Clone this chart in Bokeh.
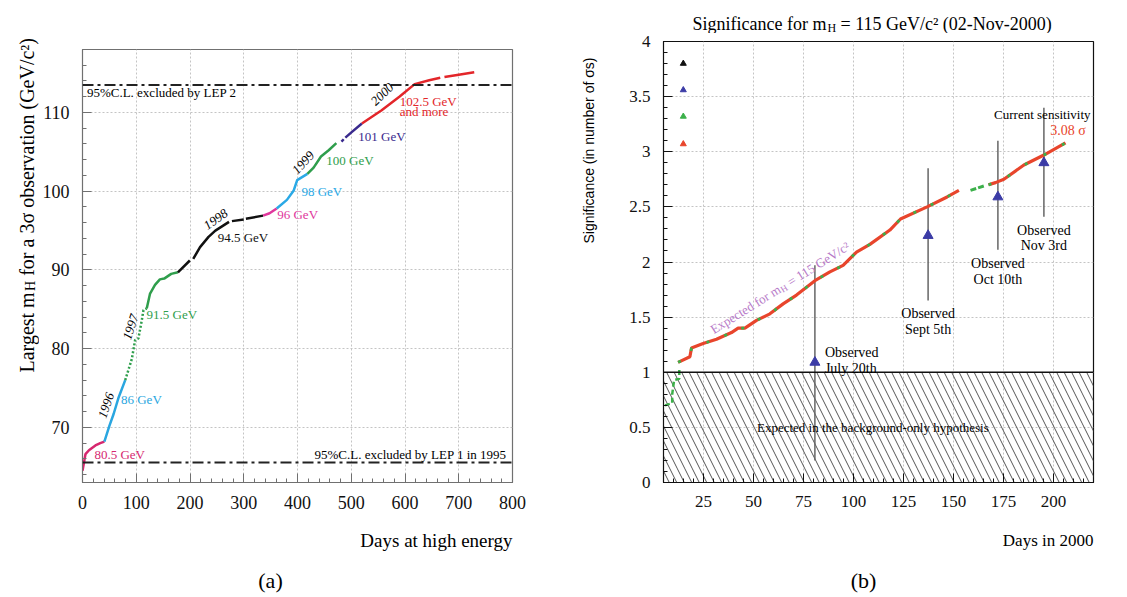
import math
import numpy as np
from bokeh.plotting import figure
from bokeh.layouts import row, column
from bokeh.models import Label, Span, SingleIntervalTicker, CustomJSTickFormatter, Range1d
from bokeh.embed import file_html
from bokeh.resources import INLINE

SERIF = "Liberation Serif"
SANS = "Liberation Sans"
NAN = float("nan")

# ---------------- Panel (a) data: largest mH for a 3 sigma observation ----------------
days_805 = [0, 5.5, 12, 24, 33, 40.7]
mh_805 = [64.5, 66.6, 67.1, 67.7, 68.0, 68.2]
days_86 = [40.7, 50, 57.9, 67.2, 79.5]
mh_86 = [68.2, 70.2, 71.7, 73.8, 76.0]
days_915_dot = [79.5, 91.8, 97.9, 104, 110.3, 113.4, 119.5]
mh_915_dot = [76.0, 78.7, 81.1, 81.3, 83.6, 84.9, 85.1]
days_915 = [119.5, 125.7, 134.9, 144, 152, 165, 177.5]
mh_915 = [85.1, 87.0, 88.1, 88.8, 88.9, 89.5, 89.7]
days_945 = [177.5, 199.7, NAN, 206, 218.7, 234.5, 247.2, 272.6, NAN, 278, 300, NAN, 304, 336]
mh_945 = [89.7, 91.2, NAN, 91.4, 92.9, 94.2, 95.0, 96.1, NAN, 96.2, 96.4, NAN, 96.5, 96.9]
days_96 = [336, 348, 361.3]
mh_96 = [96.9, 97.2, 97.8]
days_98 = [361.3, 380.3, 393, 399.4, 418.4]
mh_98 = [97.8, 98.9, 100.1, 101.4, 102.2]
days_100 = [418.4, 430, 443.7, 458, 472.3]
mh_100 = [102.2, 103.0, 104.4, 105.2, 106.1]
days_101 = [481.8, 486, NAN, 489, 500.8, 519.8]
mh_101 = [106.3, 106.6, NAN, 106.8, 107.5, 108.6]
days_1025 = [519.8, 556, 589.5, 618, 645, 665.6, NAN, 673.4, 700, 728.8]
mh_1025 = [108.6, 110.25, 112.0, 113.6, 114.1, 114.4, NAN, 114.5, 114.8, 115.1]
lep2_limit = 113.5
lep1_limit = 65.55

# ---------------- Panel (b) data: significance for mH = 115 GeV ----------------
exp_g1_days = [5.75, 9.35, 9.35, 10.3, 12.9, 12.9]
exp_g1_sig = [0.70, 0.72, 0.80, 0.93, 0.94, 1.03]
exp_r1_days = [12.3, 18.2, 19.0, 24.8, 31.5, 39.0, 42.3, 45.7, 51.5, 58.2, 64.8, 71.5,
               80.7, 88.2, 94.8, 101.5, 108.2, 118.2, 123.5, 136.8, 146.8, 152.7]
exp_r1_sig = [1.09, 1.14, 1.22, 1.26, 1.30, 1.36, 1.40, 1.40, 1.47, 1.53, 1.62, 1.70,
              1.83, 1.91, 1.97, 2.09, 2.16, 2.29, 2.39, 2.50, 2.59, 2.65]
exp_g2_days = [158.5, 165.2]
exp_g2_sig = [2.65, 2.69]
exp_r2_days = [167.5, 171, 175.2, 185.2, 195.2, 206]
exp_r2_sig = [2.70, 2.72, 2.75, 2.88, 2.97, 3.08]
obs_days = [80.7, 137.3, 172.2, 195.2]
obs_sig = [1.09, 2.24, 2.59, 2.90]
obs_top = [1.97, 2.85, 3.10, 3.40]
obs_bottom = [0.20, 1.65, 2.11, 2.41]
obs_names = ["July 20th", "Sept 5th", "Oct 10th", "Nov 3rd"]
leg_day = [14.9, 14.9, 14.9, 14.9]
leg_sig = [3.80, 3.56, 3.32, 3.07]
leg_colors = ["#111111", "#3b3ba6", "#3cb04a", "#e8452c"]
bg_days = [5, 220]
bg_top = [1, 1]
current_sig = "3.08 σ"


def lab(p, x, y, text, size, color="black", align="left", baseline="middle",
        angle=0.0, font=SERIF, style="normal"):
    p.add_layout(Label(x=x, y=y, text=text, text_font_size=f"{size}px",
                       text_color=color, text_align=align, text_baseline=baseline,
                       angle=angle, text_font=font, text_font_style=style))


def no_align(f):
    if "frame_align" in f.properties():
        f.frame_align = False
    return f


def style_axes(p, xint, yint, tick_size, outline):
    p.xaxis.ticker = SingleIntervalTicker(interval=xint, num_minor_ticks=5)
    p.yaxis.ticker = SingleIntervalTicker(interval=yint, num_minor_ticks=5)
    p.xgrid.ticker = SingleIntervalTicker(interval=xint)
    p.ygrid.ticker = SingleIntervalTicker(interval=yint)
    for ax in (p.xaxis, p.yaxis):
        ax.major_tick_in = 9
        ax.major_tick_out = 0
        ax.minor_tick_in = 4
        ax.minor_tick_out = 0
        ax.major_label_text_font = SERIF
        ax.major_label_text_font_size = f"{tick_size}px"
        ax.major_label_text_color = "#111111"
        ax.major_label_standoff = 13
        ax.axis_line_color = outline
        ax.major_tick_line_color = outline
        ax.minor_tick_line_color = outline
    for g in (p.xgrid, p.ygrid):
        g.grid_line_color = "#c4c4c4"
        g.grid_line_dash = "2 2"
        g.grid_line_width = 1
    p.outline_line_color = outline
    p.outline_line_width = 1.2


def strip(x0, x1, y0, y1):
    """Blank text canvas whose coordinates are page pixels (y downward)."""
    f = figure(width=int(x1 - x0), height=int(y1 - y0), x_range=Range1d(x0, x1),
               y_range=Range1d(y1, y0), output_backend="svg", toolbar_location=None,
               x_axis_type=None, y_axis_type=None, min_border=0,
               min_border_left=0, min_border_right=0, min_border_top=0, min_border_bottom=0)
    f.outline_line_color = None
    f.background_fill_color = "white"
    f.border_fill_color = "white"
    return no_align(f)


# ======================= Panel (a) =======================
pa = figure(width=521, height=518, output_backend="svg", toolbar_location=None,
            x_range=Range1d(0, 800), y_range=Range1d(63, 118),
            min_border_left=40, min_border_right=48, min_border_top=49, min_border_bottom=36)
no_align(pa)
style_axes(pa, 100, 10, 18, "#707070")

for loc in (lep2_limit, lep1_limit):
    pa.add_layout(Span(location=loc, dimension="width", line_color="#222222",
                       line_width=2, line_dash="11 4 3 4"))

segs = [
    (days_805, mh_805, "#d6286f", None),
    (days_86, mh_86, "#2aa6e0", None),
    (days_915_dot, mh_915_dot, "#2f9e4c", "2 2"),
    (days_915, mh_915, "#2f9e4c", None),
    (days_945, mh_945, "#111111", None),
    (days_96, mh_96, "#e0379c", None),
    (days_98, mh_98, "#2aa9e6", None),
    (days_100, mh_100, "#2f9e4c", None),
    (days_101, mh_101, "#3a2a8e", None),
    (days_1025, mh_1025, "#e3262a", None),
]
for xs, ys, col, dash in segs:
    kw = dict(line_dash=dash) if dash else {}
    pa.line(np.array(xs, dtype=float), np.array(ys, dtype=float), line_color=col,
            line_width=2.5, **kw)

lab(pa, 8.2, 112.6, "95%C.L. excluded by LEP 2", 13)
lab(pa, 789, 66.6, "95%C.L. excluded by LEP 1 in 1995", 13, align="right")
energy_labels = [
    ("80.5 GeV", 22.2, 66.5, "#d6286f"),
    ("86 GeV", 71.6, 73.5, "#2aa6e0"),
    ("91.5 GeV", 119.2, 84.4, "#2f9e4c"),
    ("94.5 GeV", 251.4, 94.1, "#111111"),
    ("96 GeV", 362.3, 97.0, "#e0379c"),
    ("98 GeV", 407.3, 100.0, "#2aa9e6"),
    ("100 GeV", 453.5, 103.9, "#2f9e4c"),
    ("101 GeV", 513, 106.95, "#3a2a8e"),
    ("102.5 GeV", 590, 111.45, "#e3262a"),
    ("and more", 590, 110.15, "#e3262a"),
]
for t, x, y, c in energy_labels:
    lab(pa, x, y, t, 13, color=c)
year_labels = [("1996", 44.4, 72.8, 71), ("1997", 90, 82.75, 72), ("1998", 248.3, 96.4, 35),
               ("1999", 411, 103.6, 47), ("2000", 558, 112.3, 44)]
for t, x, y, a in year_labels:
    lab(pa, x, y, t, 13, align="center", angle=math.radians(a), style="italic")

# text strips around panel (a), coordinates in page pixels
a_left = strip(0, 39, 0, 595)
lab(a_left, 26.5, 372, "Largest m", 20, baseline="alphabetic", angle=math.pi / 2)
lab(a_left, 30, 290.4, "H", 14, baseline="alphabetic", angle=math.pi / 2)
lab(a_left, 26.5, 275.3, "for a 3σ observation (GeV/c²)", 20, baseline="alphabetic",
    angle=math.pi / 2)
a_bot = strip(39, 560, 518, 595)
lab(a_bot, 512, 540, "Days at high energy", 19, align="right", baseline="alphabetic")
lab(a_bot, 270, 580, "(a)", 22, align="center", baseline="alphabetic")

# ======================= Panel (b) =======================
pb = figure(width=520, height=485, output_backend="svg", toolbar_location=None,
            x_range=Range1d(5, 220), y_range=Range1d(0, 4),
            min_border_left=58, min_border_right=32, min_border_top=8, min_border_bottom=36)
no_align(pb)
style_axes(pb, 25, 0.5, 17, "#111111")
pb.yaxis.formatter = CustomJSTickFormatter(code="return String(tick)")

pb.varea(x=bg_days, y1=[0, 0], y2=bg_top, fill_alpha=0, hatch_pattern="\\",
         hatch_scale=15, hatch_color="#555555", hatch_weight=1)
pb.add_layout(Span(location=1, dimension="width", line_color="#111111", line_width=1.5))

pb.segment(x0=obs_days, y0=obs_bottom, x1=obs_days, y1=obs_top, line_color="#666666",
           line_width=1.5)

pb.line(exp_g1_days, exp_g1_sig, line_color="#3cb04a", line_width=2.5, line_dash="5 3")
pb.line(exp_r1_days, exp_r1_sig, line_color="#e8452c", line_width=3.2)
pb.line(exp_r1_days, exp_r1_sig, line_color="#3cb04a", line_width=2.8, line_dash="3 16")
pb.line(exp_g2_days, exp_g2_sig, line_color="#3cb04a", line_width=3, line_dash="6 2")
pb.line(exp_r2_days, exp_r2_sig, line_color="#e8452c", line_width=3.2)
pb.line(exp_r2_days, exp_r2_sig, line_color="#3cb04a", line_width=2.8, line_dash="3 18")

pb.scatter(obs_days, obs_sig, marker="triangle", size=10, fill_color="#3b3ba6",
           line_color="#3b3ba6")
pb.scatter(leg_day, leg_sig, marker="triangle", size=6, fill_color=leg_colors,
           line_color=leg_colors)

obs_label_pos = [(85.7, 1.18, 1.03, "left"), (137.3, 1.53, 1.39, "center"),
                 (172.2, 1.99, 1.84, "center"), (195.2, 2.29, 2.15, "center")]
for (x, y1, y2, al), name in zip(obs_label_pos, obs_names):
    lab(pb, x, y1, "Observed", 14, align=al)
    lab(pb, x, y2, name, 14, align=al)
lab(pb, 218.5, 3.34, "Current sensitivity", 13, align="right")
lab(pb, 207.2, 3.19, current_sig, 14, color="#e8452c", align="center")
lab(pb, 109.7, 0.495, "Expected in the background-only hypothesis", 13, align="center")

ang = math.radians(32)
purple = "#b77ac8"
lab(pb, 29.0, 1.379, "Expected for m", 13, color=purple, baseline="alphabetic", angle=ang)
lab(pb, 64.0, 1.743, "H", 9, color=purple, baseline="alphabetic", angle=ang)
lab(pb, 67.5, 1.813, "= 115 GeV/c²", 13, color=purple, baseline="alphabetic", angle=ang)

# text strips around panel (b), coordinates in page pixels
b_left = strip(560, 605, 0, 595)
lab(b_left, 588, 150, "Significance (in number of σs)", 14, align="center",
    angle=math.pi / 2, font=SANS)
b_top = strip(605, 1125, 0, 33)
lab(b_top, 692, 23.5, "Significance for m", 18, baseline="alphabetic")
lab(b_top, 827, 27, "H", 12, baseline="alphabetic")
lab(b_top, 840, 23.5, "= 115 GeV/c² (02-Nov-2000)", 18, baseline="alphabetic")
b_bot = strip(605, 1125, 518, 595)
lab(b_bot, 1093, 540, "Days in 2000", 17, align="right", baseline="alphabetic")
lab(b_bot, 863, 580, "(b)", 22, align="center", baseline="alphabetic")

layout = row(a_left, column(pa, a_bot), b_left, column(b_top, pb, b_bot))
open("out.html", "w").write(file_html(layout, INLINE))
